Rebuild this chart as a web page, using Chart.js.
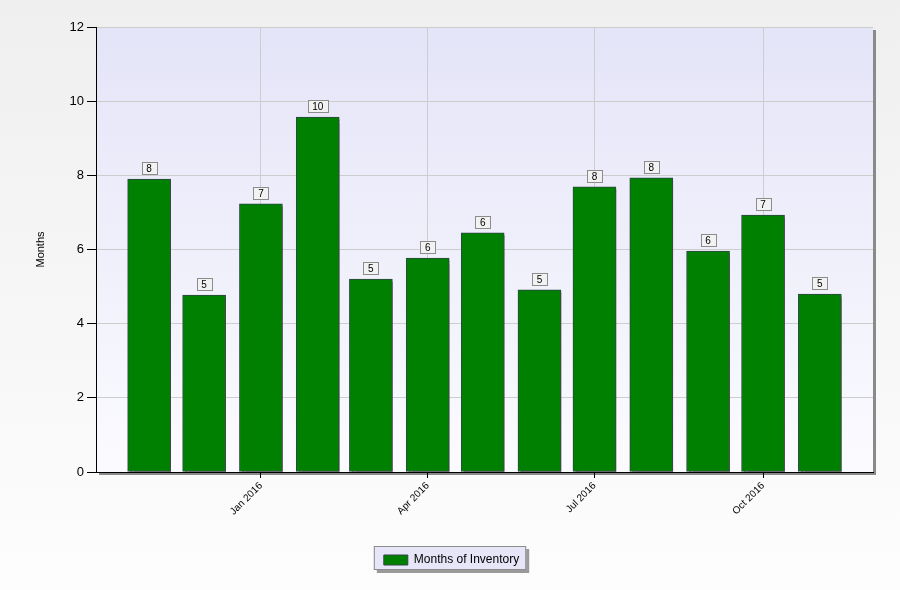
<!DOCTYPE html>
<html lang="en">
<head>
<meta charset="UTF-8">
<title>Months of Inventory</title>
<script src="https://cdn.jsdelivr.net/npm/chart.js"></script>
<style>
  html, body { margin: 0; padding: 0; background: #f4f4f4; }
</style>
</head>
<body>
<canvas id="inventoryChart" width="900" height="590"></canvas>
<script>
// data
const months = ['Nov 2015', 'Dec 2015', 'Jan 2016', 'Feb 2016', 'Mar 2016', 'Apr 2016', 'May 2016',
                'Jun 2016', 'Jul 2016', 'Aug 2016', 'Sep 2016', 'Oct 2016', 'Nov 2016'];
const monthsOfInventory = [7.90, 4.77, 7.23, 9.57, 5.20, 5.77, 6.45, 4.91, 7.69, 7.93, 5.96, 6.93, 4.80];
const tickLabels = ['Jan 2016', 'Apr 2016', 'Jul 2016', 'Oct 2016'];
const yTicks = [0, 2, 4, 6, 8, 10, 12];
const xRange = ['2015-10-03', '2016-11-30'];
const seriesName = 'Months of Inventory';
const yTitle = 'Months';

const FONT = '"Liberation Sans", Arial, sans-serif';
Chart.defaults.font.family = FONT;
Chart.defaults.color = '#000';

// x axis is a time line in days, counted from 1 Jan 2016
const MON = ['Jan', 'Feb', 'Mar', 'Apr', 'May', 'Jun', 'Jul', 'Aug', 'Sep', 'Oct', 'Nov', 'Dec'];
const ORIGIN = Date.UTC(2016, 0, 1);
function dayOf(label) {
    const [m, y] = label.split(' ');
    return (Date.UTC(+y, MON.indexOf(m), 1) - ORIGIN) / 86400000;
}
function dayOfIso(s) {
    return (Date.parse(s + 'T00:00:00Z') - ORIGIN) / 86400000;
}
const tickDays = tickLabels.map(dayOf);

// page + plot backgrounds, plot shadow, legend frame
const backgroundPlugin = {
    id: 'backgrounds',
    beforeDraw(chart) {
        const ctx = chart.ctx;
        const a = chart.chartArea;
        ctx.save();
        let g = ctx.createLinearGradient(0, 0, 0, chart.height);
        g.addColorStop(0, '#efefef');
        g.addColorStop(1, '#fdfdfd');
        ctx.fillStyle = g;
        ctx.fillRect(0, 0, chart.width, chart.height);

        // plot shadow
        ctx.fillStyle = '#8a8a8a';
        ctx.fillRect(a.right, a.top + 3, 3, a.bottom - a.top);
        ctx.fillRect(a.left + 3, a.bottom, a.right - a.left, 3);

        g = ctx.createLinearGradient(0, a.top, 0, a.bottom);
        g.addColorStop(0, '#e4e4f8');
        g.addColorStop(1, '#fbfbff');
        ctx.fillStyle = g;
        ctx.fillRect(a.left, a.top, a.right - a.left, a.bottom - a.top);

        // legend frame
        const hb = chart.legend && chart.legend.legendHitBoxes && chart.legend.legendHitBoxes[0];
        if (hb) {
            const x = hb.left - 10, y = hb.top - 8, w = hb.width + 17, h = hb.height + 12;
            ctx.fillStyle = '#9a9a9a';
            ctx.fillRect(x + 3, y + 3, w, h);
            ctx.fillStyle = '#e6e6f8';
            ctx.fillRect(x, y, w, h);
            ctx.strokeStyle = '#8c8c8c';
            ctx.lineWidth = 1;
            ctx.strokeRect(x + 0.5, y + 0.5, w - 1, h - 1);
        }
        ctx.restore();
    }
};

// drop shadow on the bars
const barShadowPlugin = {
    id: 'barShadow',
    beforeDatasetsDraw(chart) {
        const ctx = chart.ctx;
        ctx.save();
        ctx.shadowColor = 'rgba(70,70,70,0.75)';
        ctx.shadowOffsetX = 3;
        ctx.shadowOffsetY = 3;
        ctx.shadowBlur = 1;
    },
    afterDatasetsDraw(chart) {
        chart.ctx.restore();
    }
};

// small boxed value labels above the bars
const valueLabelPlugin = {
    id: 'valueLabels',
    afterDatasetsDraw(chart) {
        const ctx = chart.ctx;
        const meta = chart.getDatasetMeta(0);
        ctx.save();
        ctx.font = '10px ' + FONT;
        ctx.textAlign = 'center';
        ctx.textBaseline = 'middle';
        meta.data.forEach((bar, i) => {
            const txt = String(Math.round(monthsOfInventory[i]));
            const w = Math.round(ctx.measureText(txt).width) + 9;
            const h = 12;
            const x = Math.round(bar.x - w / 2) + 0.5;
            const y = Math.round(bar.y - 5 - h) + 0.5;
            ctx.fillStyle = '#f2f2f2';
            ctx.fillRect(x, y, w, h);
            ctx.strokeStyle = '#8c8c8c';
            ctx.lineWidth = 1;
            ctx.strokeRect(x, y, w, h);
            ctx.fillStyle = '#000';
            ctx.fillText(txt, bar.x, y + h / 2 + 0.5);
        });
        ctx.restore();
    }
};

const ctx = document.getElementById('inventoryChart').getContext('2d');
const chart = new Chart(ctx, {
    type: 'bar',
    data: {
        datasets: [{
            label: seriesName,
            data: monthsOfInventory.map((v, i) => ({ x: dayOf(months[i]), y: v })),
            backgroundColor: '#008000',
            borderColor: '#2f4545',
            borderWidth: 1,
            borderSkipped: false,
            barThickness: 43
        }]
    },
    options: {
        responsive: false,
        animation: false,
        devicePixelRatio: 1,
        layout: { padding: { left: 30, top: 27, right: 27, bottom: 14 } },
        scales: {
            x: {
                type: 'linear',
                offset: false,
                min: dayOfIso(xRange[0]),
                max: dayOfIso(xRange[1]),
                afterBuildTicks: s => {
                    s.ticks = tickDays.map(d => ({ value: d }));
                },
                afterFit: s => { s.height = 72; },
                ticks: {
                    autoSkip: false,
                    minRotation: 45,
                    maxRotation: 45,
                    padding: 2,
                    font: { size: 10 },
                    color: '#000',
                    callback: v => tickLabels[tickDays.indexOf(v)]
                },
                grid: { offset: false, color: '#cdcdcd', tickColor: '#000', tickLength: 6 },
                border: { color: '#000', width: 1 }
            },
            y: {
                min: 0,
                max: 12,
                afterBuildTicks: s => {
                    s.ticks = yTicks.map(v => ({ value: v }));
                },
                afterFit: s => { s.width = 66; },
                ticks: { font: { size: 13 }, color: '#000', padding: 3 },
                grid: { color: '#cdcdcd', tickColor: '#000', tickLength: 9 },
                border: { color: '#000', width: 1 },
                title: { display: true, text: yTitle, font: { size: 11 }, color: '#000', padding: { top: 4, bottom: 4 } }
            }
        },
        plugins: {
            legend: {
                position: 'bottom',
                labels: {
                    boxWidth: 24,
                    boxHeight: 10,
                    padding: 10,
                    color: '#000',
                    font: { size: 12 }
                }
            },
            tooltip: { enabled: false }
        }
    },
    plugins: [backgroundPlugin, barShadowPlugin, valueLabelPlugin]
});
</script>
</body>
</html>
